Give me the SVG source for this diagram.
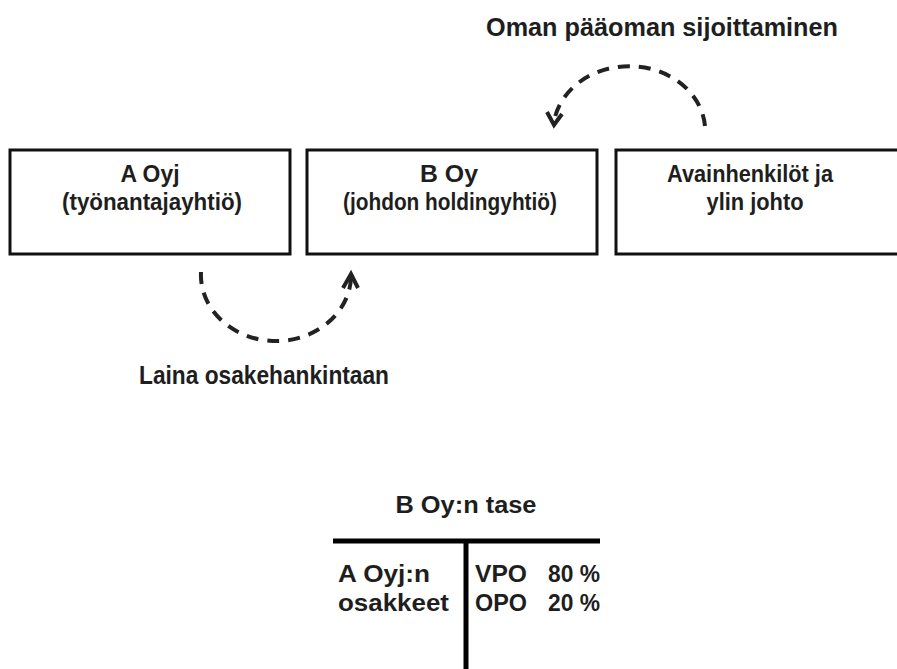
<svg xmlns="http://www.w3.org/2000/svg" width="897" height="669" viewBox="0 0 897 669">
<style>
.box{fill:#fff;stroke:#111;stroke-width:3}
.t{font-family:"Liberation Sans",Arial,sans-serif;fill:#1e1e1e;font-weight:bold}
.bt{font-size:23px;text-anchor:middle}
.lbl{font-size:26px;text-anchor:middle}
.tb{font-size:23px}
.arc{fill:none;stroke:#222;stroke-width:4;stroke-dasharray:12 9}
.head{fill:none;stroke:#222;stroke-width:4;stroke-linejoin:miter}
.rule{stroke:#000;stroke-width:5}
</style>
<rect width="897" height="669" fill="#fff"/>
<g id="node-a-oyj">
<rect class="box" x="10" y="150" width="280" height="104"/>
<text class="t bt" x="150" y="182" textLength="59" lengthAdjust="spacingAndGlyphs">A Oyj</text>
<text class="t bt" x="152" y="210" textLength="180" lengthAdjust="spacingAndGlyphs">(työnantajayhtiö)</text>
</g>
<g id="node-b-oy">
<rect class="box" x="307" y="150" width="290" height="104"/>
<text class="t bt" x="449" y="182" textLength="58" lengthAdjust="spacingAndGlyphs">B Oy</text>
<text class="t bt" x="450" y="210" textLength="214" lengthAdjust="spacingAndGlyphs">(johdon holdingyhtiö)</text>
</g>
<g id="node-avainhenkilot">
<rect class="box" x="616" y="150" width="300" height="104"/>
<text class="t bt" x="750" y="182" textLength="166" lengthAdjust="spacingAndGlyphs">Avainhenkilöt ja</text>
<text class="t bt" x="755" y="210" textLength="97" lengthAdjust="spacingAndGlyphs">ylin johto</text>
</g>
<g id="connectors">
<path class="arc" d="M705,126 A76,65 0 0 0 554,122"/>
<polyline class="head" points="547,112 554,125 562,114"/>
<path class="arc" d="M201,272 A75,66 0 0 0 351,278"/>
<polyline class="head" points="343,288 351,274 358,288"/>
</g>
<g id="labels">
<text class="t lbl" x="662" y="36" textLength="352" lengthAdjust="spacingAndGlyphs">Oman pääoman sijoittaminen</text>
<text class="t lbl" x="264" y="384" textLength="250" lengthAdjust="spacingAndGlyphs">Laina osakehankintaan</text>
</g>
<g id="balance-sheet">
<text class="t tb" x="466" y="513" text-anchor="middle" textLength="141" lengthAdjust="spacingAndGlyphs">B Oy:n tase</text>
<line class="rule" x1="333" y1="541" x2="600" y2="541"/>
<line class="rule" x1="466" y1="541" x2="466" y2="669"/>
<text class="t tb" x="338" y="582" textLength="92" lengthAdjust="spacingAndGlyphs">A Oyj:n</text>
<text class="t tb" x="338" y="611" textLength="111" lengthAdjust="spacingAndGlyphs">osakkeet</text>
<text class="t tb" x="475" y="582" textLength="52" lengthAdjust="spacingAndGlyphs">VPO</text>
<text class="t tb" x="548" y="582" textLength="52" lengthAdjust="spacingAndGlyphs">80 %</text>
<text class="t tb" x="475" y="611" textLength="52" lengthAdjust="spacingAndGlyphs">OPO</text>
<text class="t tb" x="548" y="611" textLength="52" lengthAdjust="spacingAndGlyphs">20 %</text>
</g>
</svg>
